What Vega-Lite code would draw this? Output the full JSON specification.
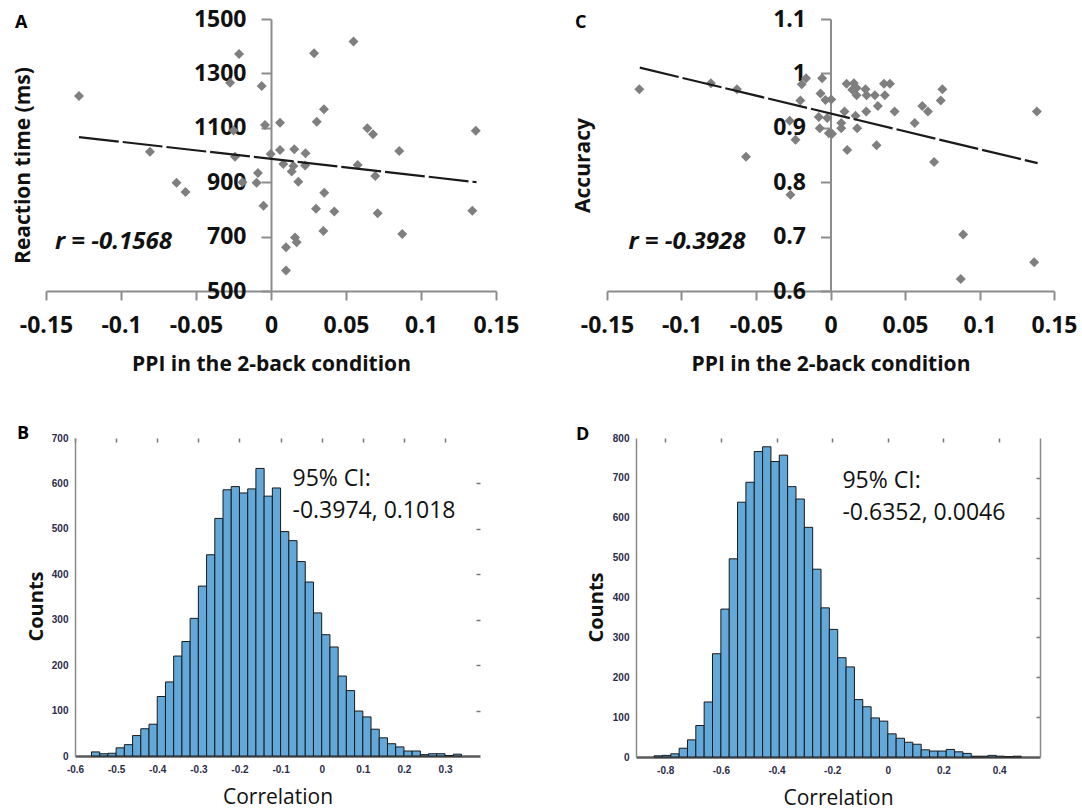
{
  "$schema": "https://vega.github.io/schema/vega-lite/v6.json",
  "background": "white",
  "padding": {"left": 12, "top": 8, "right": 5, "bottom": 5},
  "config": {"view": {"stroke": null}, "axis": {"grid": false}},
  "datasets": {
    "rt": [
      {"ppi": -0.128, "rt": 1217}, {"ppi": -0.0213, "rt": 1371}, {"ppi": -0.0273, "rt": 1266}, {"ppi": -0.0062, "rt": 1254},
      {"ppi": -0.025, "rt": 1090}, {"ppi": -0.004, "rt": 1110}, {"ppi": 0.006, "rt": 1119}, {"ppi": -0.0807, "rt": 1012},
      {"ppi": -0.024, "rt": 994}, {"ppi": -0.0002, "rt": 1004}, {"ppi": -0.063, "rt": 898}, {"ppi": -0.057, "rt": 864},
      {"ppi": -0.019, "rt": 900}, {"ppi": -0.0087, "rt": 934}, {"ppi": -0.0096, "rt": 898}, {"ppi": -0.005, "rt": 813},
      {"ppi": 0.055, "rt": 1417}, {"ppi": 0.0287, "rt": 1374}, {"ppi": 0.0353, "rt": 1168}, {"ppi": 0.0305, "rt": 1122},
      {"ppi": 0.0642, "rt": 1098}, {"ppi": 0.068, "rt": 1076}, {"ppi": 0.1365, "rt": 1089}, {"ppi": 0.006, "rt": 1018},
      {"ppi": 0.0155, "rt": 1021}, {"ppi": 0.023, "rt": 1006}, {"ppi": 0.0855, "rt": 1015}, {"ppi": 0.0082, "rt": 967},
      {"ppi": 0.0149, "rt": 960}, {"ppi": 0.0227, "rt": 961}, {"ppi": 0.0138, "rt": 939}, {"ppi": 0.0578, "rt": 963},
      {"ppi": 0.0695, "rt": 923}, {"ppi": 0.0182, "rt": 902}, {"ppi": 0.0355, "rt": 861}, {"ppi": 0.03, "rt": 802},
      {"ppi": 0.0422, "rt": 792}, {"ppi": 0.0711, "rt": 786}, {"ppi": 0.1342, "rt": 795}, {"ppi": 0.0349, "rt": 721},
      {"ppi": 0.0875, "rt": 710}, {"ppi": 0.01, "rt": 661}, {"ppi": 0.016, "rt": 697}, {"ppi": 0.0171, "rt": 679},
      {"ppi": 0.01, "rt": 575}
    ],
    "rtfit": [{"ppi": -0.128, "rt": 1066}, {"ppi": 0.137, "rt": 900}],
    "acc": [
      {"ppi": -0.1283, "acc": 0.971}, {"ppi": -0.0803, "acc": 0.982}, {"ppi": -0.0628, "acc": 0.971}, {"ppi": -0.0567, "acc": 0.847},
      {"ppi": -0.0164, "acc": 0.991}, {"ppi": -0.0193, "acc": 0.98}, {"ppi": -0.0056, "acc": 0.991}, {"ppi": -0.0202, "acc": 0.95},
      {"ppi": -0.0274, "acc": 0.913}, {"ppi": -0.0235, "acc": 0.878}, {"ppi": -0.0269, "acc": 0.777}, {"ppi": -0.0067, "acc": 0.963},
      {"ppi": -0.0034, "acc": 0.951}, {"ppi": -0.0079, "acc": 0.92}, {"ppi": -0.0022, "acc": 0.918}, {"ppi": -0.0072, "acc": 0.899},
      {"ppi": -0.0011, "acc": 0.89}, {"ppi": 0.0005, "acc": 0.952}, {"ppi": 0.0011, "acc": 0.889}, {"ppi": 0.0108, "acc": 0.981},
      {"ppi": 0.0157, "acc": 0.982}, {"ppi": 0.0175, "acc": 0.973}, {"ppi": 0.0146, "acc": 0.97}, {"ppi": 0.0175, "acc": 0.96},
      {"ppi": 0.0235, "acc": 0.971}, {"ppi": 0.0242, "acc": 0.96}, {"ppi": 0.0298, "acc": 0.96}, {"ppi": 0.0359, "acc": 0.981},
      {"ppi": 0.0399, "acc": 0.981}, {"ppi": 0.0365, "acc": 0.96}, {"ppi": 0.0751, "acc": 0.971}, {"ppi": 0.074, "acc": 0.95},
      {"ppi": 0.0094, "acc": 0.93}, {"ppi": 0.0318, "acc": 0.94}, {"ppi": 0.024, "acc": 0.93}, {"ppi": 0.043, "acc": 0.93},
      {"ppi": 0.0616, "acc": 0.94}, {"ppi": 0.0654, "acc": 0.93}, {"ppi": 0.1385, "acc": 0.93}, {"ppi": 0.0168, "acc": 0.922},
      {"ppi": 0.0072, "acc": 0.909}, {"ppi": 0.0072, "acc": 0.899}, {"ppi": 0.0179, "acc": 0.899}, {"ppi": 0.0565, "acc": 0.909},
      {"ppi": 0.0112, "acc": 0.859}, {"ppi": 0.0309, "acc": 0.868}, {"ppi": 0.0695, "acc": 0.837}, {"ppi": 0.089, "acc": 0.704},
      {"ppi": 0.0874, "acc": 0.622}, {"ppi": 0.1367, "acc": 0.653}
    ],
    "accfit": [{"ppi": -0.128, "acc": 1.0105}, {"ppi": 0.139, "acc": 0.835}],
    "histB": [
      {"lo": -0.56, "hi": -0.54, "n": 9}, {"lo": -0.54, "hi": -0.52, "n": 5}, {"lo": -0.52, "hi": -0.5, "n": 6},
      {"lo": -0.5, "hi": -0.48, "n": 18}, {"lo": -0.48, "hi": -0.46, "n": 25}, {"lo": -0.46, "hi": -0.44, "n": 45},
      {"lo": -0.44, "hi": -0.42, "n": 60}, {"lo": -0.42, "hi": -0.4, "n": 70}, {"lo": -0.4, "hi": -0.38, "n": 131},
      {"lo": -0.38, "hi": -0.36, "n": 163}, {"lo": -0.36, "hi": -0.34, "n": 220}, {"lo": -0.34, "hi": -0.32, "n": 252},
      {"lo": -0.32, "hi": -0.3, "n": 303}, {"lo": -0.3, "hi": -0.28, "n": 374}, {"lo": -0.28, "hi": -0.26, "n": 443},
      {"lo": -0.26, "hi": -0.24, "n": 523}, {"lo": -0.24, "hi": -0.22, "n": 586}, {"lo": -0.22, "hi": -0.2, "n": 593},
      {"lo": -0.2, "hi": -0.18, "n": 579}, {"lo": -0.18, "hi": -0.16, "n": 588}, {"lo": -0.16, "hi": -0.14, "n": 633},
      {"lo": -0.14, "hi": -0.12, "n": 572}, {"lo": -0.12, "hi": -0.1, "n": 590}, {"lo": -0.1, "hi": -0.08, "n": 494},
      {"lo": -0.08, "hi": -0.06, "n": 474}, {"lo": -0.06, "hi": -0.04, "n": 428}, {"lo": -0.04, "hi": -0.02, "n": 383},
      {"lo": -0.02, "hi": 0, "n": 315}, {"lo": 0, "hi": 0.02, "n": 267}, {"lo": 0.02, "hi": 0.04, "n": 240},
      {"lo": 0.04, "hi": 0.06, "n": 176}, {"lo": 0.06, "hi": 0.08, "n": 144}, {"lo": 0.08, "hi": 0.1, "n": 99},
      {"lo": 0.1, "hi": 0.12, "n": 86}, {"lo": 0.12, "hi": 0.14, "n": 59}, {"lo": 0.14, "hi": 0.16, "n": 40},
      {"lo": 0.16, "hi": 0.18, "n": 27}, {"lo": 0.18, "hi": 0.2, "n": 20}, {"lo": 0.2, "hi": 0.22, "n": 11},
      {"lo": 0.22, "hi": 0.24, "n": 11}, {"lo": 0.24, "hi": 0.26, "n": 3}, {"lo": 0.26, "hi": 0.28, "n": 5},
      {"lo": 0.28, "hi": 0.3, "n": 5}, {"lo": 0.3, "hi": 0.32, "n": 1}, {"lo": 0.32, "hi": 0.34, "n": 4}
    ],
    "histD": [
      {"lo": -0.84, "hi": -0.81, "n": 3}, {"lo": -0.81, "hi": -0.78, "n": 4}, {"lo": -0.78, "hi": -0.75, "n": 8},
      {"lo": -0.75, "hi": -0.72, "n": 22}, {"lo": -0.72, "hi": -0.69, "n": 43}, {"lo": -0.69, "hi": -0.66, "n": 79},
      {"lo": -0.66, "hi": -0.63, "n": 138}, {"lo": -0.63, "hi": -0.6, "n": 259}, {"lo": -0.6, "hi": -0.57, "n": 371},
      {"lo": -0.57, "hi": -0.54, "n": 497}, {"lo": -0.54, "hi": -0.51, "n": 639}, {"lo": -0.51, "hi": -0.48, "n": 689},
      {"lo": -0.48, "hi": -0.45, "n": 766}, {"lo": -0.45, "hi": -0.42, "n": 778}, {"lo": -0.42, "hi": -0.39, "n": 741},
      {"lo": -0.39, "hi": -0.36, "n": 757}, {"lo": -0.36, "hi": -0.33, "n": 678}, {"lo": -0.33, "hi": -0.3, "n": 647},
      {"lo": -0.3, "hi": -0.27, "n": 576}, {"lo": -0.27, "hi": -0.24, "n": 471}, {"lo": -0.24, "hi": -0.21, "n": 374},
      {"lo": -0.21, "hi": -0.18, "n": 320}, {"lo": -0.18, "hi": -0.15, "n": 249}, {"lo": -0.15, "hi": -0.12, "n": 226},
      {"lo": -0.12, "hi": -0.09, "n": 144}, {"lo": -0.09, "hi": -0.06, "n": 126}, {"lo": -0.06, "hi": -0.03, "n": 98},
      {"lo": -0.03, "hi": 0, "n": 90}, {"lo": 0, "hi": 0.03, "n": 58}, {"lo": 0.03, "hi": 0.06, "n": 47},
      {"lo": 0.06, "hi": 0.09, "n": 37}, {"lo": 0.09, "hi": 0.12, "n": 32}, {"lo": 0.12, "hi": 0.15, "n": 18},
      {"lo": 0.15, "hi": 0.18, "n": 15}, {"lo": 0.18, "hi": 0.21, "n": 15}, {"lo": 0.21, "hi": 0.24, "n": 19},
      {"lo": 0.24, "hi": 0.27, "n": 13}, {"lo": 0.27, "hi": 0.3, "n": 9}, {"lo": 0.3, "hi": 0.33, "n": 2},
      {"lo": 0.33, "hi": 0.36, "n": 2}, {"lo": 0.36, "hi": 0.39, "n": 4}, {"lo": 0.39, "hi": 0.42, "n": 2},
      {"lo": 0.42, "hi": 0.45, "n": 1}, {"lo": 0.45, "hi": 0.48, "n": 2}
    ]
  },
  "vconcat": [
    {
      "hconcat": [
        {
          "width": 450, "height": 272,
          "title": {"text": "A", "anchor": "start", "frame": "group", "orient": "top", "offset": 0, "baseline": "middle", "dx": -31, "dy": 33, "font": "Open Sans", "fontSize": 18, "fontWeight": "bold", "color": "#000"},
          "layer": [
            {
              "data": {"name": "rt"},
              "mark": {"type": "point", "shape": "diamond", "filled": true, "color": "#7f7f7f", "size": 100, "opacity": 1},
              "encoding": {
                "x": {"field": "ppi", "type": "quantitative", "title": "PPI in the 2-back condition", "scale": {"domain": [-0.15, 0.15], "nice": false, "zero": false},
                  "axis": {"orient": "bottom", "values": [-0.15, -0.1, -0.05, 0, 0.05, 0.1, 0.15], "labelExpr": "toString(datum.value)",
                    "domainColor": "#8c8c8c", "domainWidth": 2, "tickColor": "#8c8c8c", "tickWidth": 2, "tickSize": 9,
                    "labelFont": "Open Sans", "labelFontSize": 23, "labelFontWeight": "bold", "labelColor": "#111", "labelPadding": 14,
                    "labelFlush": false, "labelOverlap": false,
                    "titleFont": "Open Sans", "titleFontSize": 21, "titleFontWeight": "bold", "titleColor": "#111", "titlePadding": 16}},
                "y": {"field": "rt", "type": "quantitative", "title": "Reaction time (ms)", "scale": {"domain": [500, 1500], "nice": false, "zero": false},
                  "axis": {"orient": "left", "offset": -225, "values": [500, 700, 900, 1100, 1300, 1500], "labelExpr": "toString(datum.value)",
                    "domainColor": "#8c8c8c", "domainWidth": 2, "tickColor": "#8c8c8c", "tickWidth": 2, "tickSize": 10,
                    "labelFont": "Open Sans", "labelFontSize": 23, "labelFontWeight": "bold", "labelColor": "#111", "labelPadding": 15,
                    "labelFlush": false, "labelOverlap": false,
                    "titleX": -238, "titleY": 146, "titleAngle": -90, "titleAlign": "center", "titleBaseline": "bottom",
                    "titleFont": "Open Sans", "titleFontSize": 21, "titleFontWeight": "bold", "titleColor": "#111"}}
              }
            },
            {
              "data": {"name": "rtfit"},
              "mark": {"type": "line", "color": "#1a1a1a", "strokeWidth": 2.2, "strokeDash": [40, 4]},
              "encoding": {
                "x": {"field": "ppi", "type": "quantitative", "title": "PPI in the 2-back condition"},
                "y": {"field": "rt", "type": "quantitative", "title": "Reaction time (ms)"}
              }
            },
            {
              "data": {"values": [{}]},
              "mark": {"type": "text", "align": "center", "baseline": "middle", "font": "Open Sans", "fontSize": 24, "fontWeight": "bold", "fontStyle": "italic", "color": "#111"},
              "encoding": {
                "x": {"datum": -0.105, "type": "quantitative", "title": "PPI in the 2-back condition"},
                "y": {"datum": 680, "type": "quantitative", "title": "Reaction time (ms)"},
                "text": {"value": "r = -0.1568"}
              }
            }
          ]
        },
        {
          "width": 447, "height": 272,
          "title": {"text": "C", "anchor": "start", "frame": "group", "orient": "top", "offset": 0, "baseline": "middle", "dx": -32, "dy": 33, "font": "Open Sans", "fontSize": 18, "fontWeight": "bold", "color": "#000"},
          "layer": [
            {
              "data": {"name": "acc"},
              "mark": {"type": "point", "shape": "diamond", "filled": true, "color": "#7f7f7f", "size": 100, "opacity": 1},
              "encoding": {
                "x": {"field": "ppi", "type": "quantitative", "title": "PPI in the 2-back condition", "scale": {"domain": [-0.15, 0.15], "nice": false, "zero": false},
                  "axis": {"orient": "bottom", "values": [-0.15, -0.1, -0.05, 0, 0.05, 0.1, 0.15], "labelExpr": "toString(datum.value)",
                    "domainColor": "#8c8c8c", "domainWidth": 2, "tickColor": "#8c8c8c", "tickWidth": 2, "tickSize": 9,
                    "labelFont": "Open Sans", "labelFontSize": 23, "labelFontWeight": "bold", "labelColor": "#111", "labelPadding": 14,
                    "labelFlush": false, "labelOverlap": false,
                    "titleFont": "Open Sans", "titleFontSize": 21, "titleFontWeight": "bold", "titleColor": "#111", "titlePadding": 16}},
                "y": {"field": "acc", "type": "quantitative", "title": "Accuracy", "scale": {"domain": [0.6, 1.1], "nice": false, "zero": false},
                  "axis": {"orient": "left", "offset": -223.5, "values": [0.6, 0.7, 0.8, 0.9, 1, 1.1], "labelExpr": "toString(datum.value)",
                    "domainColor": "#8c8c8c", "domainWidth": 2, "tickColor": "#8c8c8c", "tickWidth": 2, "tickSize": 10,
                    "labelFont": "Open Sans", "labelFontSize": 23, "labelFontWeight": "bold", "labelColor": "#111", "labelPadding": 15,
                    "labelFlush": false, "labelOverlap": false,
                    "titleX": -237.5, "titleY": 146, "titleAngle": -90, "titleAlign": "center", "titleBaseline": "bottom",
                    "titleFont": "Open Sans", "titleFontSize": 21, "titleFontWeight": "bold", "titleColor": "#111"}}
              }
            },
            {
              "data": {"name": "accfit"},
              "mark": {"type": "line", "color": "#1a1a1a", "strokeWidth": 2.2, "strokeDash": [40, 4]},
              "encoding": {
                "x": {"field": "ppi", "type": "quantitative", "title": "PPI in the 2-back condition"},
                "y": {"field": "acc", "type": "quantitative", "title": "Accuracy"}
              }
            },
            {
              "data": {"values": [{}]},
              "mark": {"type": "text", "align": "center", "baseline": "middle", "font": "Open Sans", "fontSize": 24, "fontWeight": "bold", "fontStyle": "italic", "color": "#111"},
              "encoding": {
                "x": {"datum": -0.0964, "type": "quantitative", "title": "PPI in the 2-back condition"},
                "y": {"datum": 0.6906, "type": "quantitative", "title": "Accuracy"},
                "text": {"value": "r = -0.3928"}
              }
            }
          ]
        }
      ],
      "spacing": 111,
      "bounds": "flush"
    },
    {
      "hconcat": [
        {"width": 29, "height": 10, "data": {"values": []}, "mark": {"type": "point", "opacity": 0}, "encoding": {}},
        {
          "width": 405, "height": 318,
          "title": {"text": "B", "anchor": "start", "frame": "group", "orient": "top", "offset": 0, "baseline": "middle", "dx": -58, "dy": 19, "font": "Open Sans", "fontSize": 18, "fontWeight": "bold", "color": "#000"},
          "layer": [
            {
              "data": {"name": "histB"},
              "mark": {"type": "rect", "fill": "#62a8d8", "stroke": "#1a1a1a", "strokeWidth": 1},
              "encoding": {
                "x": {"field": "lo", "type": "quantitative", "scale": {"domain": [-0.6, 0.385], "nice": false, "zero": false},
                  "axis": {"orient": "bottom", "values": [-0.6, -0.5, -0.4, -0.3, -0.2, -0.1, 0, 0.1, 0.2, 0.3], "labelExpr": "toString(datum.value)",
                    "domainColor": "#5a5a5a", "domainWidth": 2.5, "ticks": false,
                    "labelFont": "Liberation Sans", "labelFontSize": 10, "labelFontWeight": "bold", "labelColor": "#2b2b4a", "labelPadding": 8,
                    "labelFlush": false, "labelOverlap": false,
                    "title": "Correlation", "titleFont": "Open Sans", "titleFontSize": 21, "titleFontWeight": "normal", "titleColor": "#111", "titlePadding": 12}},
                "x2": {"field": "hi"},
                "y": {"field": "n", "type": "quantitative", "scale": {"domain": [0, 700], "nice": false},
                  "axis": {"orient": "left", "values": [0, 100, 200, 300, 400, 500, 600, 700],
                    "domainColor": "#8a8a8a", "domainWidth": 1.5, "ticks": false,
                    "labelFont": "Liberation Sans", "labelFontSize": 10, "labelFontWeight": "bold", "labelColor": "#2b2b4a", "labelPadding": 7,
                    "labelFlush": false, "labelOverlap": false,
                    "title": "Counts", "titleX": -29, "titleY": 168, "titleAngle": -90, "titleAlign": "center", "titleBaseline": "bottom",
                    "titleFont": "Open Sans", "titleFontSize": 20, "titleFontWeight": "bold", "titleColor": "#111"}},
                "y2": {"datum": 0}
              }
            },
            {
              "data": {"values": [{}]},
              "mark": {"type": "text", "align": "left", "baseline": "top", "font": "Open Sans", "fontSize": 23, "lineHeight": 32, "color": "#111"},
              "encoding": {
                "x": {"datum": -0.071, "type": "quantitative",
                  "axis": {"orient": "top", "values": [-0.6, -0.5, -0.4, -0.3, -0.2, -0.1, 0, 0.1, 0.2, 0.3], "labels": false, "domain": false,
                    "ticks": true, "tickSize": -4, "tickColor": "#777", "tickWidth": 1.5, "title": null}},
                "y": {"datum": 634, "type": "quantitative",
                  "axis": {"orient": "right", "values": [100, 200, 300, 400, 500, 600], "labels": false, "domain": false,
                    "ticks": true, "tickSize": -4, "tickColor": "#777", "tickWidth": 1.5, "title": null}},
                "text": {"value": ["95% CI:", "-0.3974, 0.1018"]}
              }
            }
          ],
          "resolve": {"axis": {"x": "independent", "y": "independent"}}
        },
        {"width": 156, "height": 10, "data": {"values": []}, "mark": {"type": "point", "opacity": 0}, "encoding": {}},
        {
          "width": 404, "height": 319,
          "title": {"text": "D", "anchor": "start", "frame": "group", "orient": "top", "offset": 0, "baseline": "middle", "dx": -60, "dy": 20, "font": "Open Sans", "fontSize": 18, "fontWeight": "bold", "color": "#000"},
          "layer": [
            {
              "data": {"name": "histD"},
              "mark": {"type": "rect", "fill": "#62a8d8", "stroke": "#1a1a1a", "strokeWidth": 1},
              "encoding": {
                "x": {"field": "lo", "type": "quantitative", "scale": {"domain": [-0.905, 0.547], "nice": false, "zero": false},
                  "axis": {"orient": "bottom", "values": [-0.8, -0.6, -0.4, -0.2, 0, 0.2, 0.4], "labelExpr": "toString(datum.value)",
                    "domainColor": "#5a5a5a", "domainWidth": 2.5, "ticks": false,
                    "labelFont": "Liberation Sans", "labelFontSize": 10, "labelFontWeight": "bold", "labelColor": "#2b2b4a", "labelPadding": 8,
                    "labelFlush": false, "labelOverlap": false,
                    "title": "Correlation", "titleFont": "Open Sans", "titleFontSize": 21, "titleFontWeight": "normal", "titleColor": "#111", "titlePadding": 12}},
                "x2": {"field": "hi"},
                "y": {"field": "n", "type": "quantitative", "scale": {"domain": [0, 800], "nice": false},
                  "axis": {"orient": "left", "values": [0, 100, 200, 300, 400, 500, 600, 700, 800],
                    "domainColor": "#8a8a8a", "domainWidth": 1.5, "ticks": false,
                    "labelFont": "Liberation Sans", "labelFontSize": 10, "labelFontWeight": "bold", "labelColor": "#2b2b4a", "labelPadding": 7,
                    "labelFlush": false, "labelOverlap": false,
                    "title": "Counts", "titleX": -30, "titleY": 169, "titleAngle": -90, "titleAlign": "center", "titleBaseline": "bottom",
                    "titleFont": "Open Sans", "titleFontSize": 20, "titleFontWeight": "bold", "titleColor": "#111"}},
                "y2": {"datum": 0}
              }
            },
            {
              "data": {"values": [{}]},
              "mark": {"type": "text", "align": "left", "baseline": "top", "font": "Open Sans", "fontSize": 23, "lineHeight": 32, "color": "#111"},
              "encoding": {
                "x": {"datum": -0.163, "type": "quantitative",
                  "axis": {"orient": "top", "values": [-0.8, -0.6, -0.4, -0.2, 0, 0.2, 0.4], "labels": false, "domain": false,
                    "ticks": true, "tickSize": -4, "tickColor": "#777", "tickWidth": 1.5, "title": null}},
                "y": {"datum": 721, "type": "quantitative",
                  "axis": {"orient": "right", "values": [100, 200, 300, 400, 500, 600, 700], "labels": false, "domain": true,
                    "domainColor": "#8a8a8a", "domainWidth": 1.5,
                    "ticks": true, "tickSize": -4, "tickColor": "#777", "tickWidth": 1.5, "title": null}},
                "text": {"value": ["95% CI:", "-0.6352, 0.0046"]}
              }
            }
          ],
          "resolve": {"axis": {"x": "independent", "y": "independent"}}
        }
      ],
      "spacing": 0,
      "bounds": "flush"
    }
  ],
  "spacing": 51
}
